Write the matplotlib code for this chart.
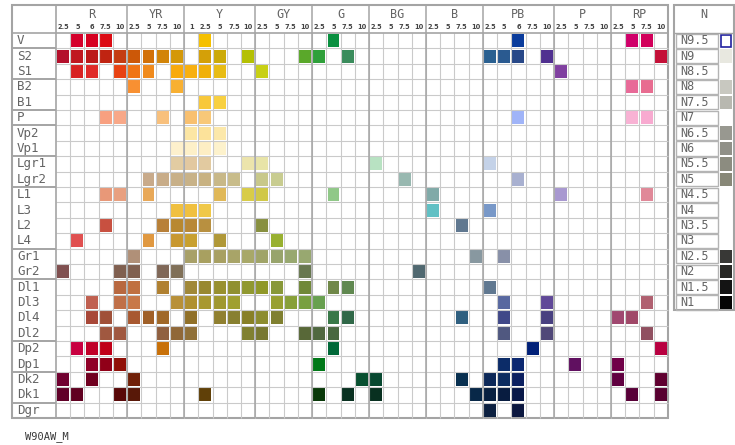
import matplotlib.pyplot as plt
from matplotlib.patches import Rectangle

# hue columns
hue_groups = ["R", "YR", "Y", "GY", "G", "BG", "B", "PB", "P", "RP"]
hue_steps = [
    ["2.5", "5", "6", "7.5", "10"],
    ["2.5", "5", "7.5", "10"],
    ["1", "2.5", "5", "7.5", "10"],
    ["2.5", "5", "7.5", "10"],
    ["2.5", "5", "7.5", "10"],
    ["2.5", "5", "7.5", "10"],
    ["2.5", "5", "7.5", "10"],
    ["2.5", "5", "6", "7.5", "10"],
    ["2.5", "5", "7.5", "10"],
    ["2.5", "5", "7.5", "10"],
]

# tone rows
tones = ["V", "S2", "S1", "B2", "B1", "P", "Vp2", "Vp1", "Lgr1", "Lgr2",
         "L1", "L3", "L2", "L4", "Gr1", "Gr2", "Dl1", "Dl3", "Dl4", "Dl2",
         "Dp2", "Dp1", "Dk2", "Dk1", "Dgr"]
tone_family = ["V", "S", "S", "B", "B", "P", "Vp", "Vp", "Lgr", "Lgr",
               "L", "L", "L", "L", "Gr", "Gr", "Dl", "Dl", "Dl", "Dl",
               "Dp", "Dp", "Dk", "Dk", "Dgr"]

# chips of each tone: (hue, colour)
chips_V = [("5R", "#d4002a"), ("6R", "#d60020"), ("7.5R", "#dc0c14"), ("2.5Y", "#f5c000"),
           ("5G", "#0a9040"), ("6PB", "#0a3c9c"), ("5RP", "#d0006a"), ("7.5RP", "#d2005a")]
chips_S2 = [("2.5R", "#b4102c"), ("5R", "#c01820"), ("6R", "#bc1a1a"), ("7.5R", "#c02412"),
            ("10R", "#c43c12"), ("2.5YR", "#cc5808"), ("5YR", "#d27008"), ("7.5YR", "#d28408"),
            ("10YR", "#d49808"), ("2.5Y", "#d4a008"), ("5Y", "#ccaa08"), ("10Y", "#b4c004"),
            ("10GY", "#5aa82a"), ("2.5G", "#2fa03a"), ("7.5G", "#3a8c5c"), ("2.5PB", "#2a6090"),
            ("5PB", "#2a5a90"), ("6PB", "#284888"), ("10PB", "#503090"), ("10RP", "#c41038")]
chips_S1 = [("5R", "#d82222"), ("6R", "#e02a28"), ("10R", "#e84212"), ("2.5YR", "#f07414"),
            ("5YR", "#f08a1c"), ("10YR", "#f8aa0c"), ("1Y", "#f8b010"), ("2.5Y", "#f0b00a"),
            ("5Y", "#e8bc14"), ("2.5GY", "#c8d014"), ("2.5P", "#8040a0")]
chips_B2 = [("2.5YR", "#f89032"), ("10YR", "#f8b032"), ("5RP", "#e86a98"), ("7.5RP", "#e86c90")]
chips_B1 = [("2.5Y", "#f8c83a"), ("5Y", "#f8d040")]
chips_P = [("7.5R", "#f8a080"), ("10R", "#f8a888"), ("7.5YR", "#f8c07c"), ("1Y", "#f8c070"),
           ("2.5Y", "#f8c878"), ("6PB", "#a0b4f8"), ("5RP", "#f8b2d4"), ("7.5RP", "#f8aad0")]
chips_Vp2 = [("1Y", "#fce6a4"), ("2.5Y", "#fce29a"), ("5Y", "#fce8aa")]
chips_Vp1 = [("10YR", "#fdf0cc"), ("1Y", "#fdf0c8"), ("2.5Y", "#fdeec4"), ("5Y", "#fdf2cc")]
chips_Lgr1 = [("10YR", "#e2cca2"), ("1Y", "#e2c8a0"), ("2.5Y", "#e2caa0"), ("10Y", "#ece4ac"),
              ("2.5GY", "#e8e4a8"), ("2.5BG", "#b8e2c2"), ("2.5PB", "#c4d2e8")]
chips_Lgr2 = [("5YR", "#c8aa8a"), ("7.5YR", "#c8ac88"), ("10YR", "#c8b088"), ("1Y", "#c8b288"),
              ("2.5Y", "#c8b282"), ("5Y", "#c8b888"), ("7.5Y", "#c8bc8a"), ("2.5GY", "#c8c88a"),
              ("5GY", "#c8cc90"), ("7.5BG", "#98b8b0"), ("6PB", "#a8b0d0")]
chips_L1 = [("7.5R", "#e89878"), ("10R", "#e8a080"), ("5YR", "#e8a858"), ("5Y", "#e0b858"),
            ("10Y", "#d8cc48"), ("2.5GY", "#d0c848"), ("5G", "#90c888"), ("2.5B", "#80aaa8"),
            ("2.5P", "#a898d0"), ("7.5RP", "#e08898")]
chips_L3 = [("10YR", "#f0c040"), ("1Y", "#f0c040"), ("2.5Y", "#f0c848"), ("2.5B", "#60c0c4"),
            ("2.5PB", "#7898c8")]
chips_L2 = [("7.5R", "#c85040"), ("7.5YR", "#b88038"), ("10YR", "#b88830"), ("1Y", "#b88838"),
            ("2.5Y", "#b89040"), ("2.5GY", "#889040"), ("7.5B", "#607890")]
chips_L4 = [("5R", "#e05050"), ("5YR", "#e09840"), ("10YR", "#c89830"), ("1Y", "#c8a030"),
            ("5Y", "#b09838"), ("5GY", "#98b030")]
chips_Gr1 = [("2.5YR", "#b09078"), ("1Y", "#a8a068"), ("2.5Y", "#a8a060"), ("5Y", "#a8a062"),
             ("7.5Y", "#a8a468"), ("10Y", "#a8a868"), ("2.5GY", "#a0a468"), ("5GY", "#98a46c"),
             ("7.5GY", "#98a870"), ("10GY", "#98a870"), ("10B", "#8898a0"), ("5PB", "#8890a8")]
chips_Gr2 = [("2.5R", "#805050"), ("10R", "#806050"), ("2.5YR", "#806050"), ("7.5YR", "#806858"),
             ("10YR", "#807058"), ("10GY", "#687850"), ("10BG", "#506870")]
chips_Dl1 = [("10R", "#b86840"), ("2.5YR", "#c07040"), ("7.5YR", "#b08030"), ("1Y", "#a08838"),
             ("2.5Y", "#988830"), ("5Y", "#989030"), ("7.5Y", "#909030"), ("10Y", "#909830"),
             ("2.5GY", "#909828"), ("5GY", "#889838"), ("10GY", "#708838"), ("5G", "#708848"),
             ("7.5G", "#608850"), ("2.5PB", "#607890")]
chips_Dl3 = [("6R", "#c06050"), ("10R", "#c07048"), ("2.5YR", "#c87848"), ("10YR", "#b89038"),
             ("1Y", "#b09030"), ("2.5Y", "#a89830"), ("5Y", "#a09830"), ("7.5Y", "#a0a030"),
             ("5GY", "#98a030"), ("7.5GY", "#88a038"), ("10GY", "#78a040"), ("2.5G", "#68a050"),
             ("5PB", "#5868a0"), ("10PB", "#604898"), ("7.5RP", "#b06070")]
chips_Dl4 = [("6R", "#a84838"), ("7.5R", "#a05038"), ("2.5YR", "#a85830"), ("5YR", "#a06028"),
             ("7.5YR", "#a06828"), ("1Y", "#907028"), ("5Y", "#908030"), ("7.5Y", "#888030"),
             ("10Y", "#888028"), ("2.5GY", "#8c8c30"), ("5GY", "#808030"), ("5G", "#387848"),
             ("7.5G", "#306848"), ("7.5B", "#306080"), ("5PB", "#404888"), ("10PB", "#484080"),
             ("2.5RP", "#a04870"), ("5RP", "#a04868")]
chips_Dl2 = [("7.5R", "#a05840"), ("10R", "#a05840"), ("7.5YR", "#906040"), ("10YR", "#906838"),
             ("1Y", "#907038"), ("10Y", "#808030"), ("2.5GY", "#787830"), ("10GY", "#586838"),
             ("2.5G", "#506840"), ("5G", "#486840"), ("5PB", "#505880"), ("10PB", "#504878"),
             ("7.5RP", "#905060")]
chips_Dp2 = [("5R", "#c80040"), ("6R", "#c00028"), ("7.5R", "#c00018"), ("7.5YR", "#c87008"),
             ("5G", "#006838"), ("7.5PB", "#002078"), ("10RP", "#b80040")]
chips_Dp1 = [("6R", "#900028"), ("7.5R", "#900018"), ("10R", "#901008"), ("2.5G", "#007818"),
             ("5PB", "#0c2c68"), ("6PB", "#0c2870"), ("5P", "#601060"), ("2.5RP", "#700048")]
chips_Dk2 = [("2.5R", "#700030"), ("6R", "#700020"), ("2.5YR", "#702008"), ("10G", "#085030"),
             ("2.5BG", "#084830"), ("7.5B", "#083050"), ("2.5PB", "#0c2858"), ("5PB", "#0c2c60"),
             ("6PB", "#0c2060"), ("2.5RP", "#600040"), ("10RP", "#600030")]
chips_Dk1 = [("2.5R", "#600028"), ("5R", "#600020"), ("10R", "#580808"), ("2.5YR", "#581808"),
             ("2.5Y", "#604008"), ("2.5G", "#083808"), ("7.5G", "#083020"), ("2.5BG", "#083020"),
             ("10B", "#082848"), ("2.5PB", "#082040"), ("5PB", "#081c40"), ("6PB", "#081848"),
             ("5RP", "#580038"), ("10RP", "#580030")]
chips_Dgr = [("2.5PB", "#0c2040"), ("6PB", "#0c1840")]

chips = {"V": chips_V, "S2": chips_S2, "S1": chips_S1, "B2": chips_B2, "B1": chips_B1,
         "P": chips_P, "Vp2": chips_Vp2, "Vp1": chips_Vp1, "Lgr1": chips_Lgr1,
         "Lgr2": chips_Lgr2, "L1": chips_L1, "L3": chips_L3, "L2": chips_L2, "L4": chips_L4,
         "Gr1": chips_Gr1, "Gr2": chips_Gr2, "Dl1": chips_Dl1, "Dl3": chips_Dl3,
         "Dl4": chips_Dl4, "Dl2": chips_Dl2, "Dp2": chips_Dp2, "Dp1": chips_Dp1,
         "Dk2": chips_Dk2, "Dk1": chips_Dk1, "Dgr": chips_Dgr}

# neutral scale
n_labels = ["N9.5", "N9", "N8.5", "N8", "N7.5", "N7", "N6.5", "N6", "N5.5", "N5",
            "N4.5", "N4", "N3.5", "N3", "N2.5", "N2", "N1.5", "N1"]
n_colors = [None, "#e8e8e0", None, "#c8c8c0", "#b8b8b0", None, "#989890", "#909088",
            "#8c8c80", "#888878", None, None, None, None, "#383836", "#282826",
            "#141414", "#050505"]

footer = "W90AW_M"

# ---- layout (pixels)
W, H = 735, 445
cw, rh = 14.23, 15.4
gx0, gy0 = 56, 33
line_c = "#cacaca"
frame_c = "#a4a4a4"
text_c = "#646464"
mono = "DejaVu Sans Mono"

fig = plt.figure(figsize=(W / 100, H / 100), dpi=100)
ax = fig.add_axes([0, 0, 1, 1])
ax.set_xlim(-gx0 / cw, (W - gx0) / cw)
ax.set_ylim((H - gy0) / rh, -gy0 / rh)
ax.axis("off")

columns = []
group_start = []
for g, steps in zip(hue_groups, hue_steps):
    group_start.append(len(columns))
    columns += [s + g for s in steps]
col_idx = {name: i for i, name in enumerate(columns)}
ncol, nrow = len(columns), len(tones)

left = (12 - gx0) / cw
top = (5 - gy0) / rh

# grid
ax.vlines(range(1, ncol), 0, nrow, color=line_c, lw=0.8)
ax.hlines(range(1, nrow), 0, ncol, color=line_c, lw=0.8)
ax.vlines(group_start[1:], top, nrow, color=frame_c, lw=1.1)
ax.hlines(0, left, ncol, color=frame_c, lw=1.2)
ax.vlines(0, top, nrow, color=frame_c, lw=1.2)
for r in range(1, nrow):
    if tone_family[r] != tone_family[r - 1]:
        ax.hlines(r, left, 0, color=frame_c, lw=1.4)
ax.add_patch(Rectangle((left, top), ncol - left, nrow - top, fill=False,
                       ec=frame_c, lw=1.5))

# header
for g, steps, s0 in zip(hue_groups, hue_steps, group_start):
    ax.text(s0 + len(steps) / 2, -1.2, g, ha="center", va="center",
            fontsize=8.5, family=mono, color=text_c)
    for k, s in enumerate(steps):
        ax.text(s0 + k + 0.5, -0.36, s, ha="center", va="center",
                fontsize=4.8, fontweight="bold", color="#444444")

# chips
ix, iy = 0.08, 0.08
for r, t in enumerate(tones):
    ax.text(left + 0.35, r + 0.5, t, ha="left", va="center",
            fontsize=9, family=mono, color=text_c)
    for hue, color in chips[t]:
        c = col_idx[hue]
        ax.add_patch(Rectangle((c + ix, r + iy), 1 - 2 * ix, 1 - 2 * iy,
                               fc=color, ec="none"))

# neutral panel
nl = (674 - gx0) / cw
nr = (734 - gx0) / cw
lb0 = (676 - gx0) / cw
lb1 = (718 - gx0) / cw
sw0 = (720 - gx0) / cw
sw1 = (732 - gx0) / cw
nn = len(n_labels)
ax.add_patch(Rectangle((nl, top), nr - nl, nn - top, fill=False, ec=frame_c, lw=1.5))
ax.hlines(0, nl, nr, color=frame_c, lw=1.0)
ax.text((nl + nr) / 2, -1.2, "N", ha="center", va="center",
        fontsize=8.5, family=mono, color=text_c)
for r, (lab, col) in enumerate(zip(n_labels, n_colors)):
    ax.add_patch(Rectangle((lb0, r + 0.04), lb1 - lb0, 0.92, fill=False,
                           ec="#b4b4b4", lw=1.0))
    ax.text(lb0 + 0.3, r + 0.5, lab, ha="left", va="center",
            fontsize=8.5, family=mono, color=text_c)
    if r == 0:
        ax.add_patch(Rectangle((sw0 + 0.05, r + 0.12), sw1 - sw0 - 0.1, 0.76,
                               fc="white", ec="#2020a0", lw=1.2))
    elif col is not None:
        ax.add_patch(Rectangle((sw0, r + 0.07), sw1 - sw0, 0.86, fc=col, ec="none"))

ax.text((25 - gx0) / cw, (437 - gy0) / rh, footer, ha="left", va="center",
        fontsize=7.5, family=mono, color="#383838")

fig.savefig("out.png", dpi=100)
